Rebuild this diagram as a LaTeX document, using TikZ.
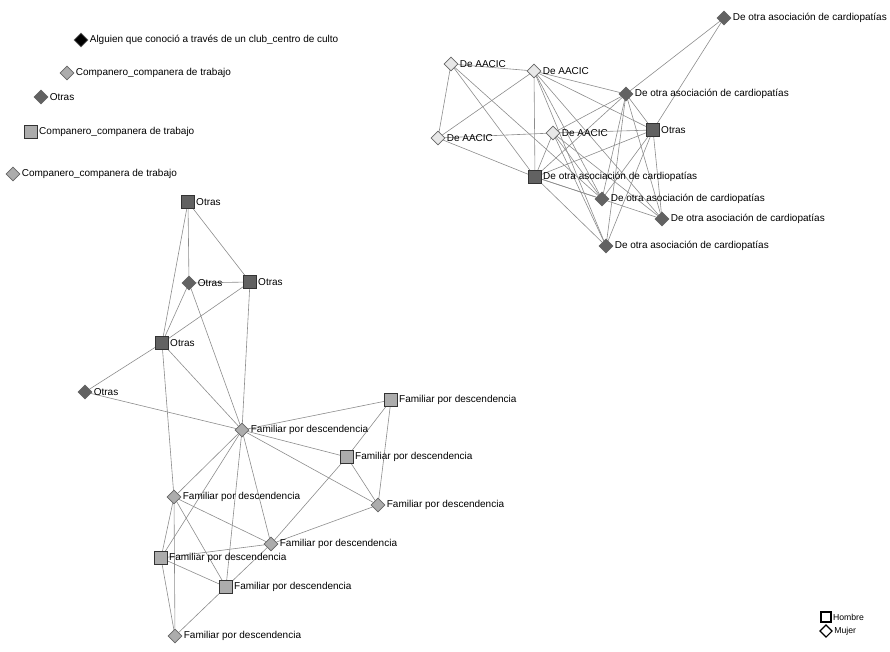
\documentclass[tikz,border=0pt]{standalone}
\usepackage{fontspec}
\setmainfont{Liberation Sans}
\usetikzlibrary{shapes.geometric,backgrounds}

\definecolor{grisOscuro}{RGB}{98,98,98}
\definecolor{grisClaro}{RGB}{172,172,172}
\definecolor{grisBlanco}{RGB}{232,232,232}
\definecolor{grisLazo}{RGB}{140,140,140}

\tikzset{every picture/.style={line width=0.75pt}}
\tikzset{
  mujer/.style={diamond,draw=black!60,line width=0.5pt,inner sep=0pt,minimum size=10.5pt},
  hombre/.style={rectangle,draw=black!80,line width=0.6pt,inner sep=0pt,minimum size=9.5pt},
  oscuro/.style={fill=grisOscuro},
  claro/.style={fill=grisClaro},
  blanco/.style={fill=grisBlanco},
  etiqueta/.style={label={[font=\fontsize{7.5}{9}\selectfont,inner sep=0.75pt,label distance=0pt]0:#1}},
  lazo/.style={draw=grisLazo,line width=0.45pt},
  leyenda/.style={draw=black,fill=white,line width=0.9pt,inner sep=0pt,minimum size=7.5pt},
}

\begin{document}
\begin{tikzpicture}[x=0.75pt,y=0.75pt,yscale=-1,xscale=1]
\useasboundingbox (0,0) rectangle (890,651);

%Isolated nodes
\node [mujer,fill=black,etiqueta={Alguien que conoció a través de un club\_centro de culto}] (alguien) at (81,40) {};
\node [mujer,claro,etiqueta={Companero\_companera de trabajo}] (compA) at (67,73) {};
\node [mujer,oscuro,etiqueta=Otras] (otrasSola) at (41,97) {};
\node [hombre,claro,etiqueta={Companero\_companera de trabajo}] (compB) at (31,132) {};
\node [mujer,claro,etiqueta={Companero\_companera de trabajo}] (compC) at (13,174) {};

%Asociaciones
\node [mujer,blanco,etiqueta={De AACIC}] (aacicA) at (451,64) {};
\node [mujer,blanco,etiqueta={De AACIC}] (aacicB) at (534,71) {};
\node [mujer,blanco,etiqueta={De AACIC}] (aacicC) at (438,138) {};
\node [mujer,blanco,etiqueta={De AACIC}] (aacicD) at (553,133) {};
\node [mujer,oscuro,etiqueta={De otra asociación de cardiopatías}] (cardioA) at (724,18) {};
\node [mujer,oscuro,etiqueta={De otra asociación de cardiopatías}] (cardioB) at (626,94) {};
\node [hombre,oscuro,etiqueta=Otras] (otrasAso) at (653,130) {};
\node [hombre,oscuro,etiqueta={De otra asociación de cardiopatías}] (cardioH) at (535,177) {};
\node [mujer,oscuro,etiqueta={De otra asociación de cardiopatías}] (cardioC) at (602,199) {};
\node [mujer,oscuro,etiqueta={De otra asociación de cardiopatías}] (cardioD) at (662,219) {};
\node [mujer,oscuro,etiqueta={De otra asociación de cardiopatías}] (cardioE) at (606,246) {};

%Otras
\node [hombre,oscuro,etiqueta=Otras] (otrasA) at (188,202) {};
\node [mujer,oscuro,etiqueta=Otras] (otrasB) at (189,283) {};
\node [hombre,oscuro,etiqueta=Otras] (otrasC) at (250,282) {};
\node [hombre,oscuro,etiqueta=Otras] (otrasD) at (162,343) {};
\node [mujer,oscuro,etiqueta=Otras] (otrasE) at (85,392) {};

%Familiares
\node [mujer,claro,etiqueta={Familiar por descendencia}] (famA) at (242,430) {};
\node [hombre,claro,etiqueta={Familiar por descendencia}] (famB) at (391,400) {};
\node [hombre,claro,etiqueta={Familiar por descendencia}] (famC) at (347,457) {};
\node [mujer,claro,etiqueta={Familiar por descendencia}] (famD) at (378,505) {};
\node [mujer,claro,etiqueta={Familiar por descendencia}] (famE) at (174,497) {};
\node [mujer,claro,etiqueta={Familiar por descendencia}] (famF) at (271,544) {};
\node [hombre,claro,etiqueta={Familiar por descendencia}] (famG) at (161,558) {};
\node [hombre,claro,etiqueta={Familiar por descendencia}] (famH) at (226,587) {};
\node [mujer,claro,etiqueta={Familiar por descendencia}] (famI) at (175,636) {};

%Leyenda
\node [leyenda,rectangle,label={[font=\fontsize{6.5}{7.5}\selectfont,inner sep=0.75pt]0:Hombre}] (legHombre) at (826,617) {};
\node [leyenda,diamond,minimum size=9.5pt,label={[font=\fontsize{6.5}{7.5}\selectfont,inner sep=0.75pt]0:Mujer}] (legMujer) at (826,631) {};

\begin{scope}[on background layer]
%Straight Lines: asociaciones
\draw [lazo] (aacicA) -- (aacicB) ;
\draw [lazo] (aacicA) -- (aacicC) ;
\draw [lazo] (aacicA) -- (cardioH) ;
\draw [lazo] (aacicA) -- (cardioC) ;
\draw [lazo] (aacicB) -- (aacicC) ;
\draw [lazo] (aacicB) -- (cardioH) ;
\draw [lazo] (aacicB) -- (cardioB) ;
\draw [lazo] (aacicB) -- (otrasAso) ;
\draw [lazo] (aacicB) -- (cardioC) ;
\draw [lazo] (aacicB) -- (cardioD) ;
\draw [lazo] (aacicB) -- (cardioE) ;
\draw [lazo] (aacicC) -- (aacicD) ;
\draw [lazo] (aacicC) -- (cardioH) ;
\draw [lazo] (aacicD) -- (otrasAso) ;
\draw [lazo] (aacicD) -- (cardioB) ;
\draw [lazo] (aacicD) -- (cardioH) ;
\draw [lazo] (aacicD) -- (cardioC) ;
\draw [lazo] (aacicD) -- (cardioD) ;
\draw [lazo] (aacicD) -- (cardioE) ;
\draw [lazo] (cardioA) -- (cardioB) ;
\draw [lazo] (cardioA) -- (otrasAso) ;
\draw [lazo] (cardioB) -- (cardioH) ;
\draw [lazo] (cardioB) -- (otrasAso) ;
\draw [lazo] (cardioB) -- (cardioC) ;
\draw [lazo] (cardioB) -- (cardioD) ;
\draw [lazo] (cardioB) -- (cardioE) ;
\draw [lazo] (otrasAso) -- (cardioH) ;
\draw [lazo] (otrasAso) -- (cardioC) ;
\draw [lazo] (otrasAso) -- (cardioD) ;
\draw [lazo] (otrasAso) -- (cardioE) ;
\draw [lazo] (cardioH) -- (cardioC) ;
\draw [lazo] (cardioH) -- (cardioD) ;
\draw [lazo] (cardioH) -- (cardioE) ;

%Straight Lines: otras
\draw [lazo] (otrasA) -- (otrasB) ;
\draw [lazo] (otrasA) -- (otrasC) ;
\draw [lazo] (otrasA) -- (otrasD) ;
\draw [lazo] (otrasB) -- (otrasC) ;
\draw [lazo] (otrasB) -- (otrasD) ;
\draw [lazo] (otrasC) -- (otrasD) ;
\draw [lazo] (otrasB) -- (famA) ;
\draw [lazo] (otrasC) -- (famA) ;
\draw [lazo] (otrasD) -- (famA) ;
\draw [lazo] (otrasD) -- (otrasE) ;
\draw [lazo] (otrasE) -- (famA) ;
\draw [lazo] (otrasD) -- (famE) ;

%Straight Lines: familiares
\draw [lazo] (famA) -- (famB) ;
\draw [lazo] (famA) -- (famC) ;
\draw [lazo] (famA) -- (famD) ;
\draw [lazo] (famA) -- (famE) ;
\draw [lazo] (famA) -- (famF) ;
\draw [lazo] (famA) -- (famG) ;
\draw [lazo] (famA) -- (famH) ;
\draw [lazo] (famB) -- (famC) ;
\draw [lazo] (famB) -- (famD) ;
\draw [lazo] (famC) -- (famD) ;
\draw [lazo] (famC) -- (famF) ;
\draw [lazo] (famD) -- (famF) ;
\draw [lazo] (famE) -- (famF) ;
\draw [lazo] (famE) -- (famG) ;
\draw [lazo] (famE) -- (famH) ;
\draw [lazo] (famE) -- (famI) ;
\draw [lazo] (famF) -- (famG) ;
\draw [lazo] (famF) -- (famH) ;
\draw [lazo] (famG) -- (famH) ;
\draw [lazo] (famG) -- (famI) ;
\draw [lazo] (famH) -- (famI) ;
\end{scope}

\end{tikzpicture}
\end{document}
